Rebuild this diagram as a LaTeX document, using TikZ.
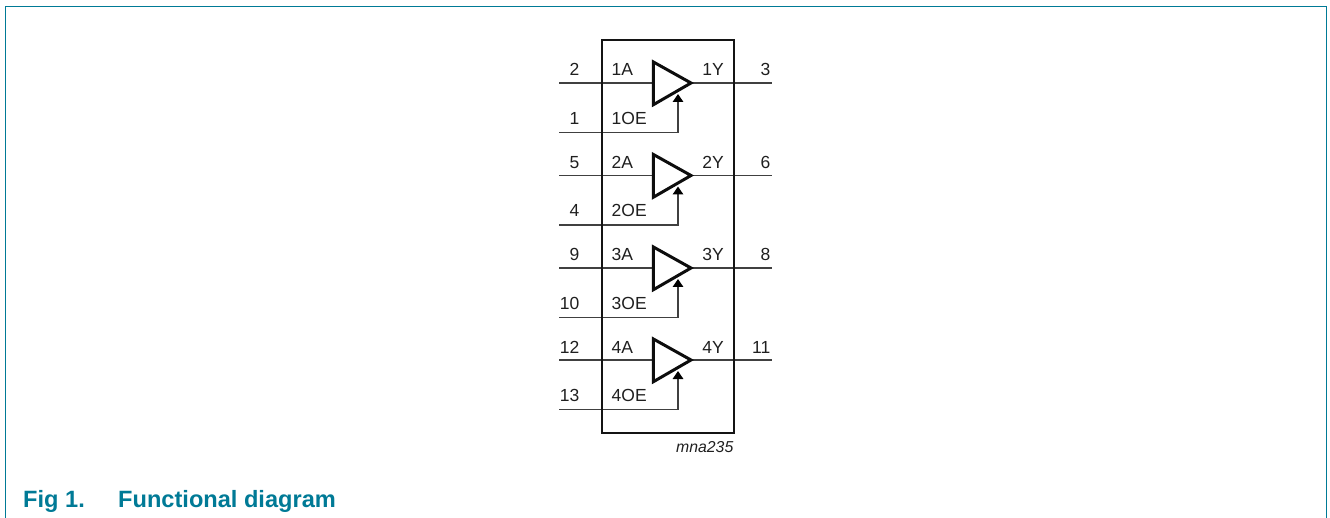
\documentclass[tikz,border=0pt]{standalone}
\usepackage{fontspec}
\setmainfont{Liberation Sans}
\usetikzlibrary{arrows.meta}
\definecolor{nxp}{RGB}{0,122,150}
\begin{document}
\begin{tikzpicture}[x=1pt,y=-1pt,
  wire/.style={line width=1.5pt,draw=black!75},
  chipbox/.style={line width=2.9pt,draw=black!92},
  gate/.style={line width=3pt,draw=black!95,fill=white,line join=miter},
  lbl/.style={font=\fontsize{17.5}{20}\selectfont,inner sep=0pt,text=black!88},
  en/.style={line width=1.5pt,draw=black!75,-{Triangle[length=8pt,width=10.5pt,fill=black,color=black]}},
  figcaption/.style={font=\bfseries\fontsize{23.6}{26}\selectfont,text=nxp,inner sep=0pt,anchor=base west}]
\useasboundingbox (0,0) rectangle (1330,518);
\draw[line width=1.5pt,draw=nxp] (5.5,530) -- (5.5,6.5) -- (1326.5,6.5) -- (1326.5,530);
\node[figcaption] (figno) at (23,507) {Fig 1.};
\node[figcaption] (figt) at (118,507) {Functional diagram};
\coordinate (boxA) at (602,40);
\coordinate (boxB) at (734,433);
\foreach \yy/\gn/\pa/\poe/\py in {83/1/2/1/3,175.5/2/5/4/6,268/3/9/10/8,360/4/12/13/11}{
  \coordinate (in\gn) at (559,\yy);
  \coordinate (oe\gn) at (559,\yy+49.5);
  \coordinate (out\gn) at (772,\yy);
  \coordinate (g\gn a) at (653.4,\yy-21);
  \coordinate (g\gn b) at (653.4,\yy+21.7);
  \coordinate (g\gn t) at (691,\yy);
  \coordinate (g\gn c) at (678,\yy+11);
  \coordinate (g\gn in) at (653,\yy);
  \draw[wire] (in\gn) -- (g\gn in);
  \draw[wire] (g\gn t) -- (out\gn);
  \draw[gate] (g\gn a) -- (g\gn t) -- (g\gn b) -- cycle;
  \draw[en] (oe\gn) -| (g\gn c);
  \node[lbl,anchor=base east] (pa\gn) at (579.5,\yy-7) {\pa};
  \node[lbl,anchor=base east] (poe\gn) at (579.5,\yy+41.5) {\poe};
  \node[lbl,anchor=base east] (py\gn) at (770.5,\yy-7) {\py};
  \node[lbl,anchor=base west] (la\gn) at (611.5,\yy-7) {\gn A};
  \node[lbl,anchor=base west] (loe\gn) at (611.5,\yy+41.5) {\gn OE};
  \node[lbl,anchor=base east] (ly\gn) at (724,\yy-7) {\gn Y};
}
\draw[chipbox] (boxA) rectangle (boxB);
\node[font=\itshape\fontsize{15.8}{18}\selectfont,inner sep=0pt,anchor=base east,text=black!88] (code) at (733.5,452.5) {mna235};
\end{tikzpicture}
\end{document}
